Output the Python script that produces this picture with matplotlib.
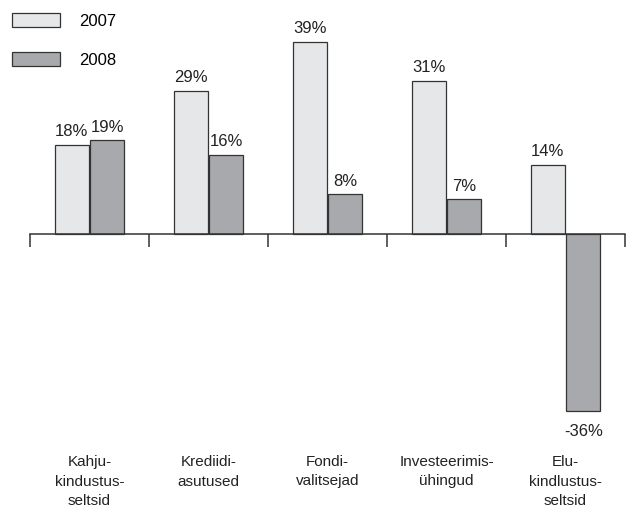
import matplotlib
matplotlib.use("Agg")
import matplotlib.pyplot as plt
import numpy as np
from matplotlib.patches import Patch

plt.rcParams['font.family'] = ['Liberation Sans', 'DejaVu Sans']

categories = ["Kahju-\nkindustus-\nseltsid", "Krediidi-\nasutused", "Fondi-\nvalitsejad",
              "Investeerimis-\nühingud", "Elu-\nkindlustus-\nseltsid"]
years = ["2007", "2008"]
values_2007 = [18, 29, 39, 31, 14]
values_2008 = [19, 16, 8, 7, -36]

col_2007 = "#e6e7e8"
col_2008 = "#a7a9ac"
edge = "#333333"

fig = plt.figure(figsize=(6.42, 5.28), dpi=100)
ax = fig.add_axes([30 / 642, 107 / 528, 595 / 642, 414 / 528])

x = np.arange(len(categories))
w = 0.29
b1 = ax.bar(x - w / 2 - 0.004, values_2007, w, color=col_2007, edgecolor=edge, linewidth=0.9)
b2 = ax.bar(x + w / 2 + 0.004, values_2008, w, color=col_2008, edgecolor=edge, linewidth=0.9)

for bars in (b1, b2):
    for r in bars:
        v = r.get_height()
        if v >= 0:
            ax.annotate(f"{v:.0f}%", (r.get_x() + r.get_width() / 2, v), xytext=(0, 4),
                        textcoords="offset points", ha="center", va="bottom", fontsize=12, color="#222222")
        else:
            ax.annotate(f"{v:.0f}%", (r.get_x() + r.get_width() / 2, v), xytext=(0, -9),
                        textcoords="offset points", ha="center", va="top", fontsize=12, color="#222222")

ax.set_xlim(-0.5, len(categories) - 0.5)
ax.set_ylim(-38, 46)
for s in ["top", "right", "left"]:
    ax.spines[s].set_visible(False)
ax.spines["bottom"].set_position(("data", 0))
ax.spines["bottom"].set_color(edge)
ax.spines["bottom"].set_linewidth(1.1)
ax.set_yticks([])
ax.set_xticks(np.arange(-0.5, len(categories), 1.0))
ax.set_xticklabels([])
ax.tick_params(axis="x", direction="out", length=9, width=1.1, color=edge)

trans = matplotlib.transforms.blended_transform_factory(ax.transData, fig.transFigure)
for xi, lab in zip(x, categories):
    ax.text(xi, 1 - 455 / 528, lab, transform=trans, ha="center", va="top",
            fontsize=11, linespacing=1.5, color="#222222")

handles = [Patch(facecolor=col_2007, edgecolor=edge, linewidth=0.9),
           Patch(facecolor=col_2008, edgecolor=edge, linewidth=0.9)]
fig.legend(handles, years, loc="upper left", bbox_to_anchor=(-3 / 642, 1 + 2 / 528), frameon=False,
           fontsize=12, handlelength=2.85, handleheight=0.9, handletextpad=1.2, labelspacing=1.4)

fig.savefig("out.png", dpi=100)
